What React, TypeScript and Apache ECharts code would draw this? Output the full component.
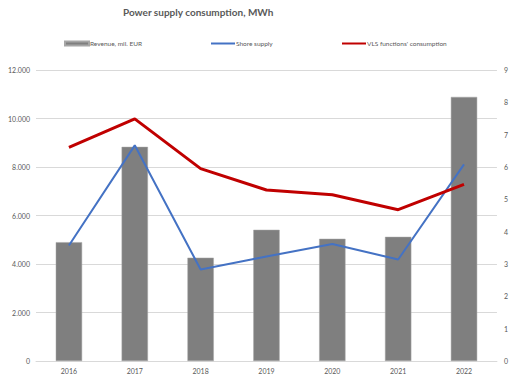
import React, { useEffect, useRef } from "react";
import * as echarts from "echarts";

const years = ["2016", "2017", "2018", "2019", "2020", "2021", "2022"];
const revenue = [4900, 8830, 4260, 5410, 5040, 5120, 10890];
const shoreSupply = [3.57, 6.67, 2.83, 3.23, 3.62, 3.14, 6.08];
const vlsConsumption = [6.61, 7.49, 5.95, 5.29, 5.14, 4.68, 5.46];

const titleText = "Power supply consumption, MWh";
const seriesNames = ["Revenue, mil. EUR", "Shore supply", "VLS functions' consumption"];

const FONT = "Lato, 'Liberation Sans', sans-serif";
const TXT = "#595959";

export default function App() {
  const ref = useRef<HTMLDivElement>(null);
  useEffect(() => {
    document.body.style.margin = "0";
    const chart = echarts.init(ref.current!, null, { renderer: "svg" });
    const legendBase = {
      top: 40,
      itemWidth: 24,
      itemGap: 4,
      textStyle: { fontSize: 6.5, color: TXT, fontFamily: FONT, padding: [0, 0, 0, -4] },
      selectedMode: false,
      padding: 0,
    };
    chart.setOption({
      animation: false,
      backgroundColor: "#ffffff",
      textStyle: { fontFamily: FONT },
      title: {
        text: titleText,
        left: 123,
        top: 7,
        padding: 0,
        textStyle: { fontSize: 10, fontWeight: "bold", color: TXT, fontFamily: FONT },
      },
      legend: [
        { ...legendBase, left: 64, itemHeight: 4, data: [{ name: seriesNames[0], icon: "rect" }] },
        { ...legendBase, left: 211, itemHeight: 2, data: [{ name: seriesNames[1], icon: "rect" }] },
        { ...legendBase, left: 342, itemHeight: 2, data: [{ name: seriesNames[2], icon: "rect" }] },
      ],
      grid: { left: 36, right: 9, top: 70, bottom: 11 },
      xAxis: {
        type: "category",
        data: years,
        axisLine: { lineStyle: { color: "#d9d9d9" } },
        axisTick: { show: false },
        axisLabel: { fontSize: 7, color: TXT, margin: 6, fontFamily: FONT },
      },
      yAxis: [
        {
          type: "value",
          min: 0,
          max: 12000,
          interval: 2000,
          axisLabel: {
            fontSize: 7,
            color: TXT,
            margin: 6,
            fontFamily: FONT,
            formatter: (v: number) => (v === 0 ? "0" : v.toLocaleString("de-DE")),
          },
          splitLine: { lineStyle: { color: "#d9d9d9", width: 1 } },
          axisLine: { show: false },
          axisTick: { show: false },
        },
        {
          type: "value",
          min: 0,
          max: 9,
          interval: 1,
          position: "right",
          axisLabel: { fontSize: 7, color: TXT, margin: 7, fontFamily: FONT },
          splitLine: { show: false },
          axisLine: { show: false },
          axisTick: { show: false },
        },
      ],
      series: [
        {
          name: seriesNames[0],
          type: "bar",
          data: revenue,
          yAxisIndex: 0,
          barWidth: "40%",
          itemStyle: { color: "#7f7f7f", borderColor: "#a6a6a6", borderWidth: 0.5 },
        },
        {
          name: seriesNames[1],
          type: "line",
          data: shoreSupply,
          yAxisIndex: 1,
          symbol: "none",
          lineStyle: { color: "#4472c4", width: 2 },
          itemStyle: { color: "#4472c4" },
        },
        {
          name: seriesNames[2],
          type: "line",
          data: vlsConsumption,
          yAxisIndex: 1,
          symbol: "none",
          lineStyle: { color: "#c00000", width: 3 },
          itemStyle: { color: "#c00000" },
        },
      ],
    });
    return () => chart.dispose();
  }, []);
  return <div ref={ref} style={{ width: 511, height: 374, overflow: "hidden" }} />;
}
